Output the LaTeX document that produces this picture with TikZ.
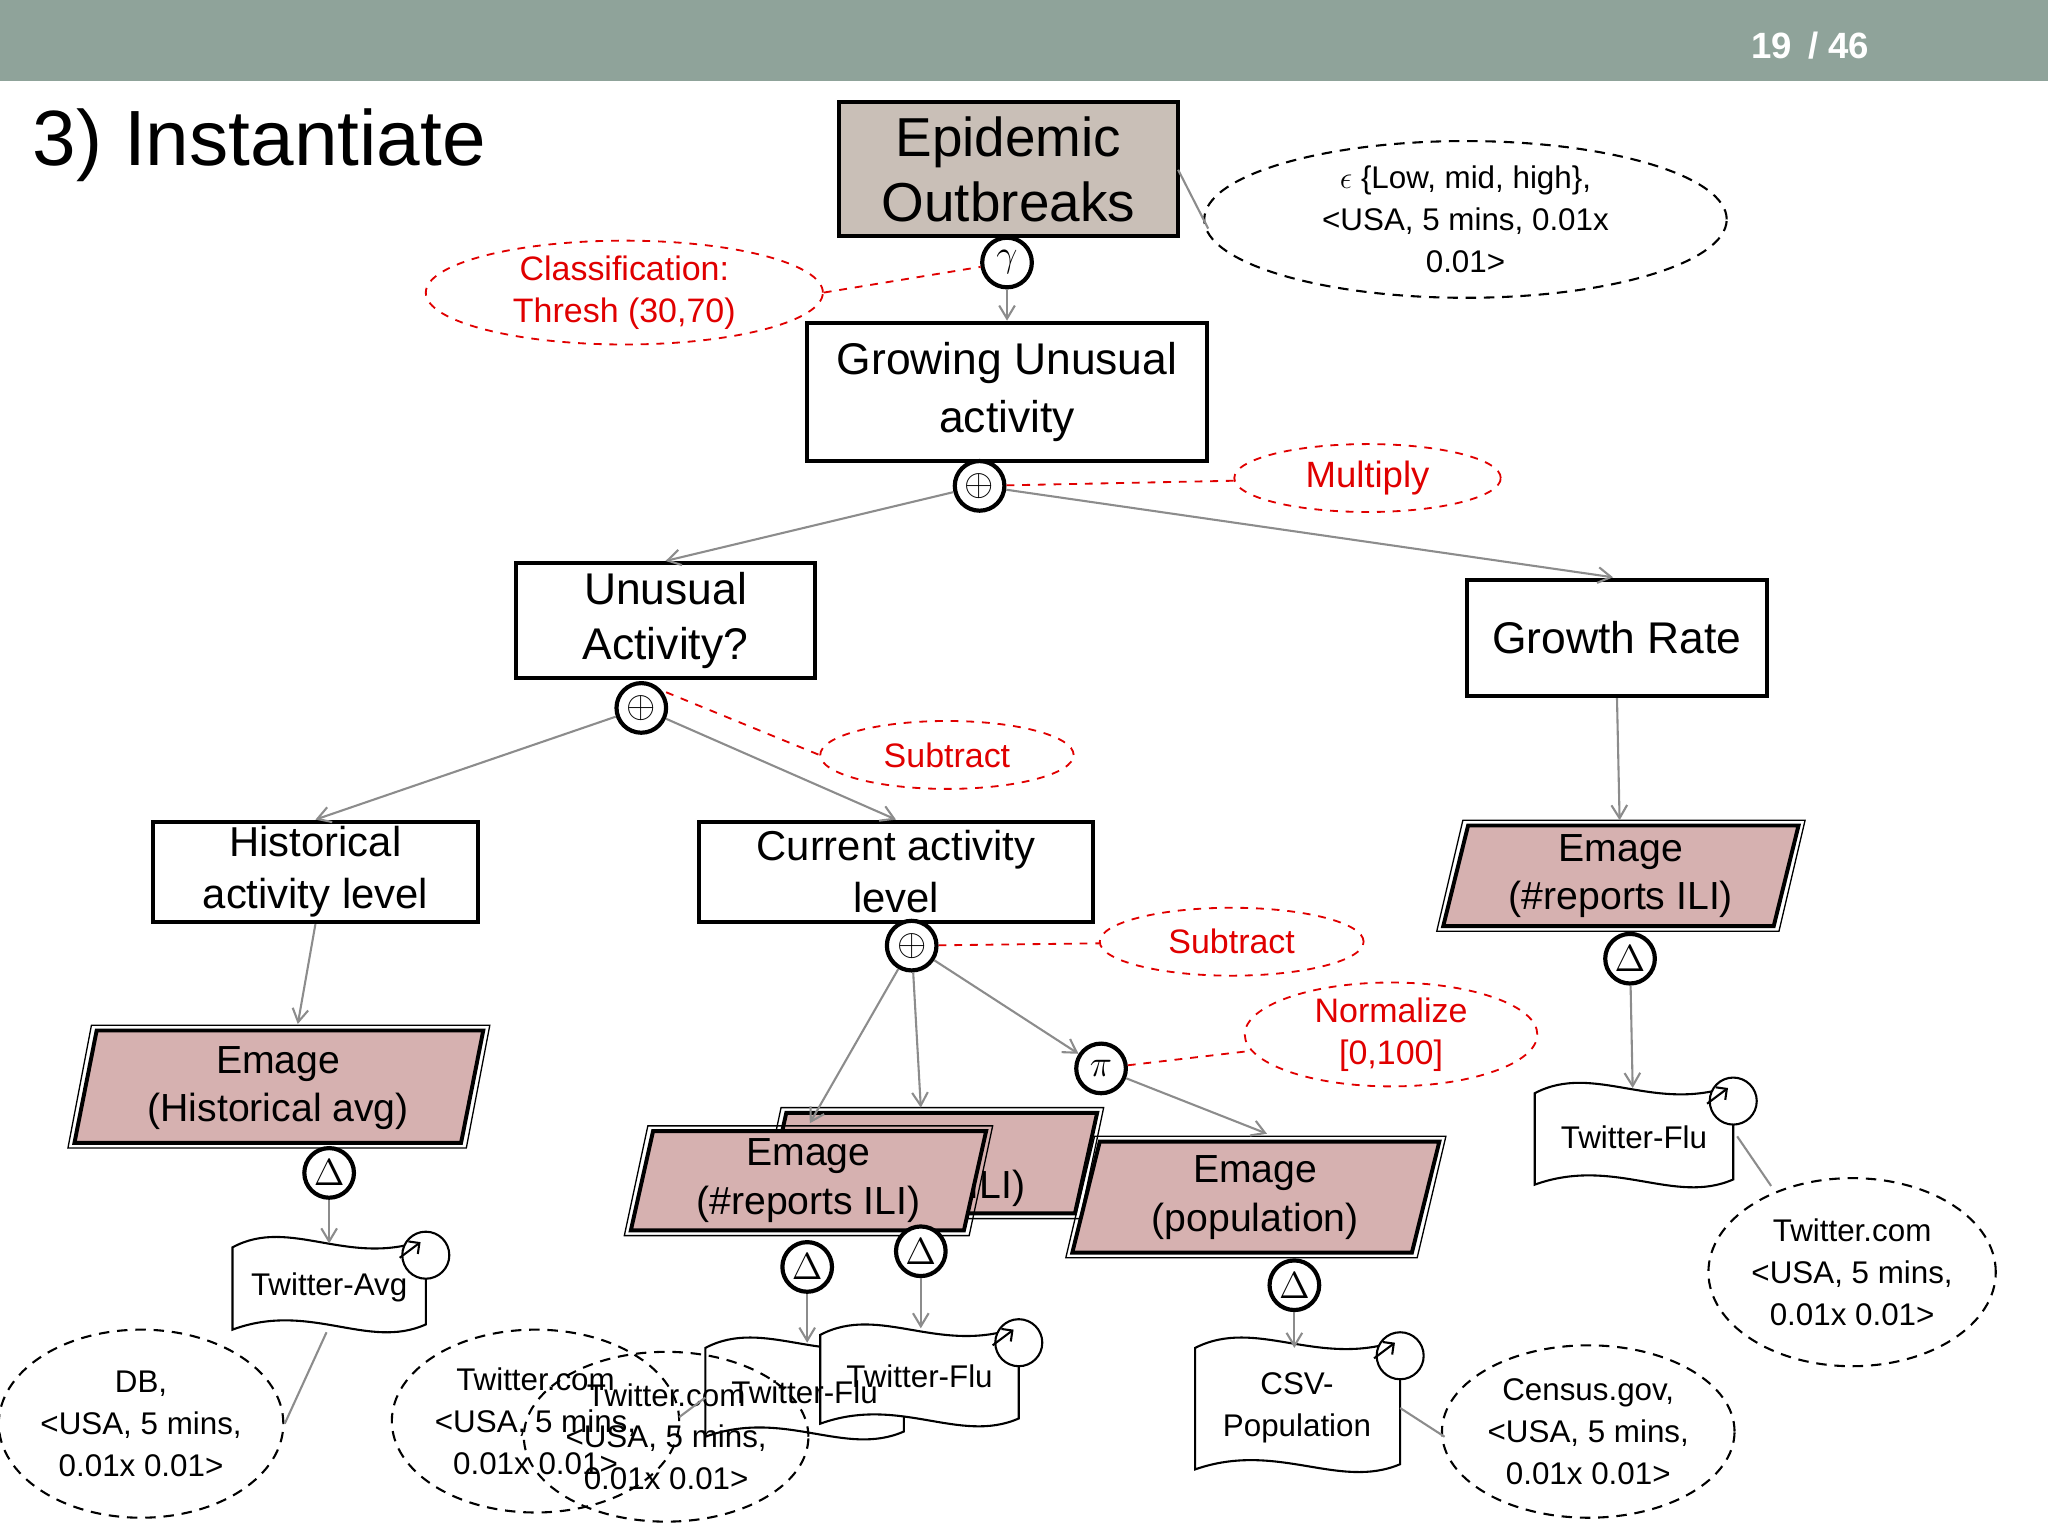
\documentclass[tikz,border=0pt]{standalone}
\usepackage{fontspec}
\setmainfont{Liberation Sans}
\usetikzlibrary{arrows.meta}
\definecolor{bar}{HTML}{8FA39A}
\definecolor{tan}{HTML}{C9BFB7}
\definecolor{pinkish}{HTML}{D6B1B0}
\definecolor{cgray}{HTML}{8C8C8C}
\definecolor{lred}{HTML}{E00000}
\tikzset{
 bx/.style={draw,line width=1.5pt,align=center,inner sep=0pt},
 op/.style={circle,draw,line width=1.6pt,fill=white,minimum size=19pt,inner sep=0pt,font=\fontsize{15}{15}\selectfont},
 con/.style={draw=cgray,line width=0.8pt,-{Straight Barb[length=5pt,width=6pt]}},
 lin/.style={draw=cgray,line width=0.8pt},
 rlab/.style={ellipse,draw=lred,dashed,line width=0.7pt,text=lred,align=center,inner sep=0pt,font=\fontsize{13}{16}\selectfont},
 rdl/.style={draw=lred,dashed,line width=0.7pt},
 blab/.style={ellipse,draw,dashed,dash pattern=on 4pt off 3pt,line width=0.8pt,align=center,inner sep=0pt,font=\fontsize{12}{16}\selectfont},
 et/.style={align=center,font=\fontsize{15}{18.5}\selectfont},
}
\usetikzlibrary{shapes.geometric}
\newcommand{\emg}[5]{% x1 y1 x2 y2 skew
 \draw[line width=0.5pt] (#1+#5,#2)--(#3,#2)--(#3-#5,#4)--(#1,#4)--cycle;
 \draw[line width=1.5pt,fill=pinkish] (#1+#5+4,#2+4)--(#3-5,#2+4)--(#3-#5-4,#4-4)--(#1+5,#4-4)--cycle;}
\newcommand{\docs}[4]{% x1 y1 x2 y2
 \draw[line width=0.8pt,fill=white] (#1,#2+12) .. controls ({#1+(#3-#1)*0.3},#2-12) and ({#1+(#3-#1)*0.6},#2+28) .. (#3,#2+6) -- (#3,#4-14) .. controls ({#3-(#3-#1)*0.3},#4+6) and ({#3-(#3-#1)*0.6},#4-32) .. (#1,#4-10) -- cycle;
 \draw[line width=0.8pt,fill=white] (#3,#2+18) circle (9pt);
 \draw[line width=0.8pt,-{Straight Barb[length=3pt]}] (#3-20,#2+20) -- (#3-4,#2+8);}
\begin{document}
\begin{tikzpicture}[x=0.5pt,y=-0.5pt]
\useasboundingbox (0,0) rectangle (1568,1176);
\fill[bar] (0,0) rectangle (1568,62);
\node[text=white,font=\fontsize{14}{14}\selectfont\bfseries] at (1386,35) {19 \,/ 46};
\node[anchor=west,font=\fontsize{30}{30}\selectfont] at (18,111) {3) Instantiate};

% boxes
\node[bx,fill=tan,minimum width=130pt,minimum height=51.5pt,font=\fontsize{21}{25}\selectfont] (epi) at (772,129.5) {Epidemic\\Outbreaks};
\node[bx,minimum width=153pt,minimum height=53pt,font=\fontsize{17}{22}\selectfont] (grow) at (771,300) {Growing Unusual\\activity};
\node[bx,minimum width=114.5pt,minimum height=44pt,font=\fontsize{17}{21}\selectfont] (unu) at (509.5,475) {Unusual\\Activity?};
\node[bx,minimum width=115pt,minimum height=44.5pt,font=\fontsize{17}{21}\selectfont] (gr) at (1238,488.5) {Growth Rate};
\node[bx,minimum width=124.5pt,minimum height=38.5pt,font=\fontsize{16}{20}\selectfont] (hist) at (241.5,667.5) {Historical\\activity level};
\node[bx,minimum width=151pt,minimum height=38.5pt,font=\fontsize{16}{20}\selectfont] (cur) at (686,667.5) {Current activity\\level};

% operators
\node[op] (g1) at (771,201) {$\gamma$};
\node[op] (p1) at (750,372) {$\oplus$};
\node[op] (p2) at (491,542) {$\oplus$};
\node[op] (p3) at (698,724) {$\oplus$};
\node[op] (pi) at (843,818) {$\pi$};

% labels
\node[blab,minimum width=200pt,minimum height=60pt] (eps) at (1122,168) {$\epsilon$ \{Low, mid, high\},\\<USA, 5 mins, 0.01x\\0.01>};
\node[rlab,minimum width=152pt,minimum height=33pt] (cls) at (478,224) {Classification:\\Thresh (30,70)};
\node[rlab,minimum width=102pt,minimum height=26pt,font=\fontsize{14}{16}\selectfont] (mul) at (1047,366) {Multiply};
\node[rlab,minimum width=97pt,minimum height=26pt] (sub1) at (725,578) {Subtract};
\node[rlab,minimum width=101pt,minimum height=26pt] (sub2) at (943,721) {Subtract};
\node[rlab,minimum width=112pt,minimum height=39pt] (nor) at (1065,792) {Normalize\\{}[0,100]};

\draw[lin] (902,130) -- (925,175);
\draw[rdl] (cls.east) -- (g1);
\draw[rdl] (p1) -- (mul);
\draw[rdl] (510,530) -- (sub1.west);
\draw[rdl] (p3) -- (sub2);
\draw[rdl] (pi) -- (nor);

\draw[con] (g1) -- (grow.north);
\draw[con] (p1) -- (unu.north);
\draw[con] (p1) -- (1235,442);
\draw[con] (p2) -- (hist.north);
\draw[con] (p2) -- (cur.north);

% emages
\emg{1100}{628}{1382}{713}{20}
\node[et] (e1) at (1241,671) {Emage\\(\#reports ILI)};
\emg{52}{785}{375}{879}{18}
\node[et] (e2) at (213,833) {Emage\\(Historical avg)};
\emg{580}{848}{845}{933}{18}
\node[et,anchor=east] (e3) at (792,910) {ILI)};
\emg{478}{862}{760}{946}{18}
\node[et] (e4) at (619,904) {Emage\\(\#reports ILI)};
\emg{816}{870}{1107}{963}{22}
\node[et] (e5) at (961,917) {Emage\\(population)};

\draw[con] (gr.south) -- (1240,628);
\draw[con] (hist.south) -- (228,784);
\draw[con] (p3) -- (620,860);
\draw[con] (p3) -- (705,848);
\draw[con] (p3) -- (pi);
\draw[con] (pi) -- (970,868);

\node[op] (d1) at (1248,734) {$\Delta$};
\node[op] (d2) at (252,898) {$\Delta$};
\node[op] (d3) at (618,970) {$\Delta$};
\node[op] (d4) at (705,958) {$\Delta$};
\node[op] (d5) at (991,984) {$\Delta$};

% documents
\docs{178}{943}{326}{1028}
\node[font=\fontsize{12}{14}\selectfont] (t1) at (252,986) {Twitter-Avg};
\docs{1175}{825}{1327}{917}
\node[font=\fontsize{12}{14}\selectfont] (t2) at (1251,871) {Twitter-Flu};
\docs{540}{1020}{692}{1110}
\docs{628}{1010}{780}{1100}
\node[font=\fontsize{12}{14}\selectfont] (t3) at (616,1066) {Twitter-Flu};
\node[font=\fontsize{12}{14}\selectfont] (t4) at (704,1054) {Twitter-Flu};
\docs{915}{1020}{1072}{1135}
\node[align=center,font=\fontsize{12}{16}\selectfont] (t5) at (993,1078) {CSV-\\Population};

\draw[con] (d1) -- (1250,833);
\draw[con] (d2) -- (252,952);
\draw[con] (d3) -- (618,1028);
\draw[con] (d4) -- (705,1017);
\draw[con] (d5) -- (991,1032);

% source ellipses
\node[blab,minimum width=108pt,minimum height=72pt] (s1) at (108,1090) {DB,\\<USA, 5 mins,\\0.01x 0.01>};
\node[blab,minimum width=110pt,minimum height=72pt] (s2) at (1418,974) {Twitter.com\\<USA, 5 mins,\\0.01x 0.01>};
\node[blab,minimum width=112pt,minimum height=66pt] (s3) at (1216,1096) {Census.gov,\\<USA, 5 mins,\\0.01x 0.01>};
\node[blab,minimum width=110pt,minimum height=70pt] (s4) at (410,1088) {Twitter.com\\<USA, 5 mins,\\0.01x 0.01>};
\node[blab,minimum width=92pt,minimum height=65pt] (s5) at (510,1100) {Twitter.com\\<USA, 5 mins,\\0.01x 0.01>};

\draw[lin] (250,1020) -- (218,1090);
\draw[lin] (1330,870) -- (1356,908);
\draw[lin] (1072,1078) -- (1106,1100);
\draw[lin] (540,1070) -- (520,1085);
\end{tikzpicture}
\end{document}
